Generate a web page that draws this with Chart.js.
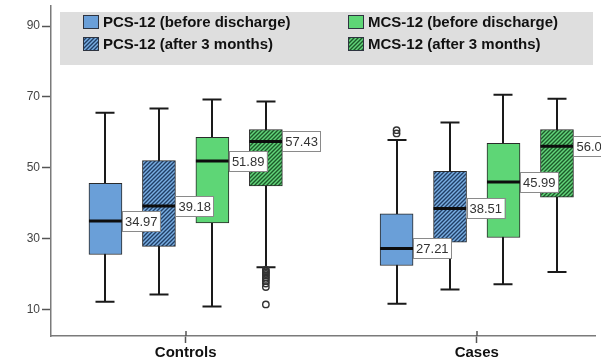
<!DOCTYPE html>
<html>
<head>
<meta charset="utf-8">
<script src="https://cdn.jsdelivr.net/npm/chart.js@4/dist/chart.umd.min.js"></script>
<style>
  html, body { margin: 0; padding: 0; background: #fff; overflow: hidden; }
</style>
</head>
<body>
<canvas id="chart" width="601" height="362"></canvas>
<script>
// Groups on the x axis and the four measurements shown in each group
const categories = ['Controls', 'Cases'];
const seriesLabels = [
  'PCS-12 (before discharge)',
  'PCS-12 (after 3 months)',
  'MCS-12 (before discharge)',
  'MCS-12 (after 3 months)'
];

// Box summaries per group: [lower whisker, Q1, median, Q3, upper whisker]
const pcsBefore = [[12.2, 25.5, 34.97, 45.6, 65.5], [11.6, 22.4, 27.21, 37.0, 57.8]];
const pcsAfter  = [[14.2, 27.8, 39.18, 52.0, 66.7], [15.6, 29.0, 38.51, 49.0, 62.8]];
const mcsBefore = [[10.8, 34.4, 51.89, 58.6, 69.3], [17.1, 30.3, 45.99, 56.9, 70.6]];
const mcsAfter  = [[21.9, 44.9, 57.43, 60.8, 68.7], [20.6, 41.7, 56.04, 60.8, 69.5]];

// Outlying observations per group
const pcsBeforeOutliers = [[], [59.7, 60.6]];
const pcsAfterOutliers  = [[], []];
const mcsBeforeOutliers = [[], []];
const mcsAfterOutliers  = [[21.2, 20.8, 20.4, 20.0, 19.6, 19.1, 18.6, 18.0, 17.3, 16.3, 11.4], []];

const yTicks = [10, 30, 50, 70, 90];

const summaries = [pcsBefore, pcsAfter, mcsBefore, mcsAfter];
const outlierSets = [pcsBeforeOutliers, pcsAfterOutliers, mcsBeforeOutliers, mcsAfterOutliers];

const FONT = "'Liberation Sans', Arial, Helvetica, sans-serif";
const canvas = document.getElementById('chart');
const mainCtx = canvas.getContext('2d');

// Box placement inside each group (in x-axis units) and box width in pixels
const boxOffsets = [-0.2755, -0.0918, 0.0918, 0.2755];
const BOX_W = 33;
const CAP_HALF = 9.5;

function hatch(base, stripe) {
  const t = document.createElement('canvas');
  t.width = 4; t.height = 4;
  const g = t.getContext('2d');
  g.fillStyle = base;
  g.fillRect(0, 0, 4, 4);
  g.strokeStyle = stripe;
  g.lineWidth = 1.4;
  g.beginPath();
  g.moveTo(-1, 5); g.lineTo(5, -1);
  g.moveTo(-1, 1); g.lineTo(1, -1);
  g.moveTo(3, 5); g.lineTo(5, 3);
  g.stroke();
  return mainCtx.createPattern(t, 'repeat');
}

const fills = [
  '#6a9fd8',
  hatch('#79aee2', '#213f66'),
  '#5ed676',
  hatch('#62d47a', '#1d5a2a')
];

const boxDatasets = summaries.map((sum, s) => ({
  type: 'bar',
  label: seriesLabels[s],
  data: sum.map((v, i) => ({ x: i + 1 + boxOffsets[s], y: [v[1], v[3]] })),
  backgroundColor: fills[s],
  borderColor: '#2a2a2a',
  borderWidth: 1,
  borderSkipped: false,
  barThickness: BOX_W,
  grouped: false,
  order: 2
}));

const outlierDatasets = outlierSets.map((set, s) => ({
  type: 'scatter',
  label: seriesLabels[s] + ' outliers',
  data: set.flatMap((vals, i) => vals.map(v => ({ x: i + 1 + boxOffsets[s], y: v }))),
  pointStyle: 'circle',
  pointRadius: 3.2,
  backgroundColor: 'rgba(255,255,255,0)',
  borderColor: '#333',
  borderWidth: 1.4,
  order: 1
}));

const boxDecor = {
  id: 'boxDecor',
  beforeDatasetsDraw(chart) {
    const { ctx, scales: { x, y } } = chart;
    ctx.save();
    ctx.strokeStyle = '#1a1a1a';
    ctx.lineWidth = 2;
    summaries.forEach((sum, s) => sum.forEach((v, i) => {
      const px = Math.round(x.getPixelForValue(i + 1 + boxOffsets[s]));
      const lo = y.getPixelForValue(v[0]);
      const hi = y.getPixelForValue(v[4]);
      ctx.beginPath();
      ctx.moveTo(px, lo); ctx.lineTo(px, hi);
      ctx.moveTo(px - CAP_HALF, lo); ctx.lineTo(px + CAP_HALF, lo);
      ctx.moveTo(px - CAP_HALF, hi); ctx.lineTo(px + CAP_HALF, hi);
      ctx.stroke();
    }));
    ctx.restore();
  },
  afterDatasetsDraw(chart) {
    const { ctx, scales: { x, y } } = chart;
    ctx.save();
    // medians
    ctx.strokeStyle = '#0d0d0d';
    ctx.lineWidth = 3;
    summaries.forEach((sum, s) => sum.forEach((v, i) => {
      const px = x.getPixelForValue(i + 1 + boxOffsets[s]);
      const py = y.getPixelForValue(v[2]);
      ctx.beginPath();
      ctx.moveTo(px - BOX_W / 2, py); ctx.lineTo(px + BOX_W / 2, py);
      ctx.stroke();
    }));
    // median value tags
    ctx.font = '13px ' + FONT;
    ctx.textBaseline = 'middle';
    ctx.textAlign = 'left';
    summaries.forEach((sum, s) => sum.forEach((v, i) => {
      const px = x.getPixelForValue(i + 1 + boxOffsets[s]) + BOX_W / 2;
      const py = y.getPixelForValue(v[2]);
      const w = 38, h = 20;
      ctx.fillStyle = '#fff';
      ctx.fillRect(px, py - h / 2, w, h);
      ctx.strokeStyle = '#8a8a8a';
      ctx.lineWidth = 1;
      ctx.strokeRect(Math.round(px) + 0.5, Math.round(py - h / 2) + 0.5, w, h);
      ctx.fillStyle = '#333';
      ctx.fillText(v[2].toFixed(2), px + 3, py + 1);
    }));
    // upward half of the category ticks
    ctx.strokeStyle = '#555';
    ctx.lineWidth = 1.5;
    categories.forEach((c, i) => {
      const px = Math.round(x.getPixelForValue(i + 1));
      ctx.beginPath();
      ctx.moveTo(px, chart.chartArea.bottom);
      ctx.lineTo(px, chart.chartArea.bottom - 5);
      ctx.stroke();
    });
    ctx.restore();
  },
  afterDraw(chart) {
    const { ctx } = chart;
    ctx.save();
    ctx.fillStyle = '#dedede';
    ctx.fillRect(60, 12, 533, 53);
    const cols = [83, 348];
    const rows = [15, 37];
    const order = [[0, 0, 0], [1, 0, 1], [2, 1, 0], [3, 1, 1]];
    ctx.font = 'bold 15px ' + FONT;
    ctx.textBaseline = 'middle';
    ctx.textAlign = 'left';
    order.forEach(([s, c, r]) => {
      const ix = cols[c], iy = rows[r];
      ctx.fillStyle = fills[s];
      ctx.fillRect(ix, iy, 16, 14);
      ctx.strokeStyle = '#2e3440';
      ctx.lineWidth = 1;
      ctx.strokeRect(ix + 0.5, iy + 0.5, 15, 13);
      ctx.fillStyle = '#111';
      ctx.fillText(seriesLabels[s], ix + 20, iy + 8);
    });
    ctx.restore();
  }
};

new Chart(mainCtx, {
  type: 'bar',
  data: { datasets: [...boxDatasets, ...outlierDatasets] },
  options: {
    responsive: false,
    animation: false,
    events: [],
    layout: { padding: 0 },
    plugins: { legend: { display: false }, tooltip: { enabled: false } },
    scales: {
      x: {
        type: 'linear',
        offset: false,
        min: 0.5374,
        max: 2.4082,
        afterBuildTicks: s => { s.ticks = categories.map((c, i) => ({ value: i + 1 })); },
        afterFit: s => { s.height = 26; s.paddingLeft = 0; s.paddingRight = 0; },
        ticks: {
          callback: (v, i) => categories[i],
          font: { family: FONT, size: 15, weight: 'bold' },
          color: '#111',
          padding: 1,
          autoSkip: false,
          maxRotation: 0
        },
        grid: { display: true, offset: false, drawOnChartArea: false, tickLength: 7, color: '#555', tickWidth: 1.5 },
        border: { color: '#7a7a7a', width: 1.5 }
      },
      y: {
        type: 'linear',
        min: 2.5,
        max: 95.83,
        afterBuildTicks: s => { s.ticks = yTicks.map(v => ({ value: v })); },
        afterFit: s => { s.width = 51; s.paddingTop = 0; s.paddingBottom = 0; },
        ticks: {
          font: { family: FONT, size: 12 },
          color: '#444',
          padding: 2
        },
        grid: { display: true, drawOnChartArea: false, tickLength: 9, color: '#555', tickWidth: 1.5 },
        border: { color: '#7a7a7a', width: 1.5 }
      }
    }
  },
  plugins: [boxDecor]
});
</script>
</body>
</html>
